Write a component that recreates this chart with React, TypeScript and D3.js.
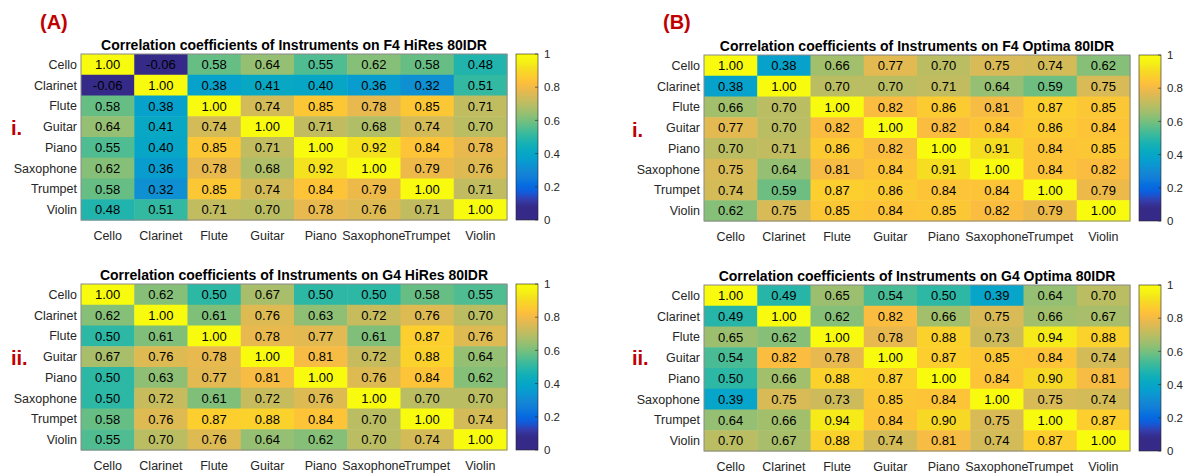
import React from "react";
import * as d3 from "d3";

const instruments = ["Cello", "Clarinet", "Flute", "Guitar", "Piano", "Saxophone", "Trumpet", "Violin"];

const f4HiRes = [
  [1.0, -0.06, 0.58, 0.64, 0.55, 0.62, 0.58, 0.48],
  [-0.06, 1.0, 0.38, 0.41, 0.4, 0.36, 0.32, 0.51],
  [0.58, 0.38, 1.0, 0.74, 0.85, 0.78, 0.85, 0.71],
  [0.64, 0.41, 0.74, 1.0, 0.71, 0.68, 0.74, 0.7],
  [0.55, 0.4, 0.85, 0.71, 1.0, 0.92, 0.84, 0.78],
  [0.62, 0.36, 0.78, 0.68, 0.92, 1.0, 0.79, 0.76],
  [0.58, 0.32, 0.85, 0.74, 0.84, 0.79, 1.0, 0.71],
  [0.48, 0.51, 0.71, 0.7, 0.78, 0.76, 0.71, 1.0],
];

const g4HiRes = [
  [1.0, 0.62, 0.5, 0.67, 0.5, 0.5, 0.58, 0.55],
  [0.62, 1.0, 0.61, 0.76, 0.63, 0.72, 0.76, 0.7],
  [0.5, 0.61, 1.0, 0.78, 0.77, 0.61, 0.87, 0.76],
  [0.67, 0.76, 0.78, 1.0, 0.81, 0.72, 0.88, 0.64],
  [0.5, 0.63, 0.77, 0.81, 1.0, 0.76, 0.84, 0.62],
  [0.5, 0.72, 0.61, 0.72, 0.76, 1.0, 0.7, 0.7],
  [0.58, 0.76, 0.87, 0.88, 0.84, 0.7, 1.0, 0.74],
  [0.55, 0.7, 0.76, 0.64, 0.62, 0.7, 0.74, 1.0],
];

const f4Optima = [
  [1.0, 0.38, 0.66, 0.77, 0.7, 0.75, 0.74, 0.62],
  [0.38, 1.0, 0.7, 0.7, 0.71, 0.64, 0.59, 0.75],
  [0.66, 0.7, 1.0, 0.82, 0.86, 0.81, 0.87, 0.85],
  [0.77, 0.7, 0.82, 1.0, 0.82, 0.84, 0.86, 0.84],
  [0.7, 0.71, 0.86, 0.82, 1.0, 0.91, 0.84, 0.85],
  [0.75, 0.64, 0.81, 0.84, 0.91, 1.0, 0.84, 0.82],
  [0.74, 0.59, 0.87, 0.86, 0.84, 0.84, 1.0, 0.79],
  [0.62, 0.75, 0.85, 0.84, 0.85, 0.82, 0.79, 1.0],
];

const g4Optima = [
  [1.0, 0.49, 0.65, 0.54, 0.5, 0.39, 0.64, 0.7],
  [0.49, 1.0, 0.62, 0.82, 0.66, 0.75, 0.66, 0.67],
  [0.65, 0.62, 1.0, 0.78, 0.88, 0.73, 0.94, 0.88],
  [0.54, 0.82, 0.78, 1.0, 0.87, 0.85, 0.84, 0.74],
  [0.5, 0.66, 0.88, 0.87, 1.0, 0.84, 0.9, 0.81],
  [0.39, 0.75, 0.73, 0.85, 0.84, 1.0, 0.75, 0.74],
  [0.64, 0.66, 0.94, 0.84, 0.9, 0.75, 1.0, 0.87],
  [0.7, 0.67, 0.88, 0.74, 0.81, 0.74, 0.87, 1.0],
];

const colorbarTicks = [0, 0.2, 0.4, 0.6, 0.8, 1];

const panelTitles = [
  "Correlation coefficients of Instruments on F4 HiRes 80IDR",
  "Correlation coefficients of Instruments on G4 HiRes 80IDR",
  "Correlation coefficients of Instruments on F4 Optima 80IDR",
  "Correlation coefficients of Instruments on G4 Optima 80IDR",
];

// parula colormap anchors (MATLAB)
const parula = [
  [0.2081, 0.1663, 0.5292], [0.2081, 0.2386, 0.6771], [0.0591, 0.3598, 0.8683],
  [0.0165, 0.4266, 0.8786], [0.0723, 0.4887, 0.8467], [0.0749, 0.5375, 0.8263],
  [0.0343, 0.5966, 0.8199], [0.0231, 0.6418, 0.7913], [0.0384, 0.6743, 0.7436],
  [0.1133, 0.7015, 0.6859], [0.2178, 0.725, 0.6193], [0.3482, 0.7424, 0.5473],
  [0.4871, 0.7491, 0.484], [0.6099, 0.7473, 0.4337], [0.7184, 0.7411, 0.3905],
  [0.8185, 0.7327, 0.3498], [0.9139, 0.7258, 0.3063], [0.9938, 0.7455, 0.2403],
  [0.988, 0.8066, 0.1794], [0.9626, 0.8705, 0.1309], [0.9661, 0.9514, 0.0755],
  [0.9763, 0.9831, 0.0538],
].map(([r, g, b]) => d3.rgb(r * 255, g * 255, b * 255).formatHex());

const parulaInterp = d3.piecewise(d3.interpolateRgb, parula);
const color = d3.scaleSequential(parulaInterp).domain([0.08, 1]).clamp(true);

const FONT = "'Liberation Sans', Arial, sans-serif";
const RED = "#C00000";

type PanelProps = {
  x0: number;
  y0: number;
  title: string;
  data: number[][];
  id: string;
};

const W = 426;
const H = 166;

function Heatmap({ x0, y0, title, data, id }: PanelProps) {
  const xs = d3.scaleBand<string>().domain(instruments).range([x0, x0 + W]);
  const ys = d3.scaleBand<string>().domain(instruments).range([y0, y0 + H]);
  const cbX = x0 + W + 9;
  const cbW = 22;
  const cbY = d3.scaleLinear().domain([0, 1]).range([y0 + H, y0]);
  const stops = d3.range(0, 1.0001, 0.025);
  return (
    <g>
      <defs>
        <linearGradient id={id} x1="0" y1="1" x2="0" y2="0">
          {stops.map((s) => (
            <stop key={s} offset={s} stopColor={color(s)} />
          ))}
        </linearGradient>
      </defs>
      <text
        x={x0 + W / 2}
        y={y0 - 4}
        textAnchor="middle"
        fontFamily={FONT}
        fontWeight="bold"
        fontSize={14}
        fill="#000"
      >
        {title}
      </text>
      {data.map((row, i) =>
        row.map((v, j) => (
          <g key={`${i}-${j}`}>
            <rect
              x={xs(instruments[j])}
              y={ys(instruments[i])}
              width={xs.bandwidth() + 0.5}
              height={ys.bandwidth() + 0.5}
              fill={color(v)}
            />
            <text
              x={(xs(instruments[j]) as number) + xs.bandwidth() / 2}
              y={(ys(instruments[i]) as number) + ys.bandwidth() / 2}
              dy="0.36em"
              textAnchor="middle"
              fontFamily={FONT}
              fontSize={13}
              fill="#000"
            >
              {v.toFixed(2)}
            </text>
          </g>
        ))
      )}
      <rect x={x0} y={y0} width={W} height={H} fill="none" stroke="#8a8a8a" strokeWidth={1} />
      {instruments.map((name) => (
        <text
          key={"r" + name}
          x={x0 - 4}
          y={(ys(name) as number) + ys.bandwidth() / 2}
          dy="0.36em"
          textAnchor="end"
          fontFamily={FONT}
          fontSize={12.5}
          fill="#262626"
        >
          {name}
        </text>
      ))}
      {instruments.map((name) => (
        <text
          key={"c" + name}
          x={(xs(name) as number) + xs.bandwidth() / 2}
          y={y0 + H + 15}
          dy="0.36em"
          textAnchor="middle"
          fontFamily={FONT}
          fontSize={12.5}
          fill="#262626"
        >
          {name}
        </text>
      ))}
      <rect x={cbX} y={y0} width={cbW} height={H} fill={`url(#${id})`} stroke="#262626" strokeWidth={0.6} />
      {colorbarTicks.map((t) => (
        <g key={"t" + t}>
          <line x1={cbX + cbW - 3} x2={cbX + cbW} y1={cbY(t)} y2={cbY(t)} stroke="#262626" strokeWidth={0.6} />
          <text
            x={cbX + cbW + 6}
            y={cbY(t)}
            dy="0.36em"
            fontFamily={FONT}
            fontSize={11.5}
            fill="#262626"
          >
            {d3.format("~g")(t)}
          </text>
        </g>
      ))}
    </g>
  );
}

export default function App() {
  return (
    <svg
      width={1184}
      height={473}
      style={{ position: "absolute", left: 0, top: 0, background: "#fff" }}
    >
      <rect x={0} y={0} width={1184} height={473} fill="#fff" />
      <text x={40} y={29} fontFamily={FONT} fontWeight="bold" fontSize={20} fill={RED}>(A)</text>
      <text x={663} y={29} fontFamily={FONT} fontWeight="bold" fontSize={20} fill={RED}>(B)</text>
      <text x={11} y={128} dy="0.36em" fontFamily={FONT} fontWeight="bold" fontSize={20} fill={RED}>i.</text>
      <text x={11} y={358} dy="0.36em" fontFamily={FONT} fontWeight="bold" fontSize={20} fill={RED}>ii.</text>
      <text x={632} y={130} dy="0.36em" fontFamily={FONT} fontWeight="bold" fontSize={20} fill={RED}>i.</text>
      <text x={632} y={358} dy="0.36em" fontFamily={FONT} fontWeight="bold" fontSize={20} fill={RED}>ii.</text>
      <Heatmap x0={81} y0={54} title={panelTitles[0]} data={f4HiRes} id="cbA1" />
      <Heatmap x0={81} y0={284} title={panelTitles[1]} data={g4HiRes} id="cbA2" />
      <Heatmap x0={704} y0={55} title={panelTitles[2]} data={f4Optima} id="cbB1" />
      <Heatmap x0={704} y0={285} title={panelTitles[3]} data={g4Optima} id="cbB2" />
    </svg>
  );
}
